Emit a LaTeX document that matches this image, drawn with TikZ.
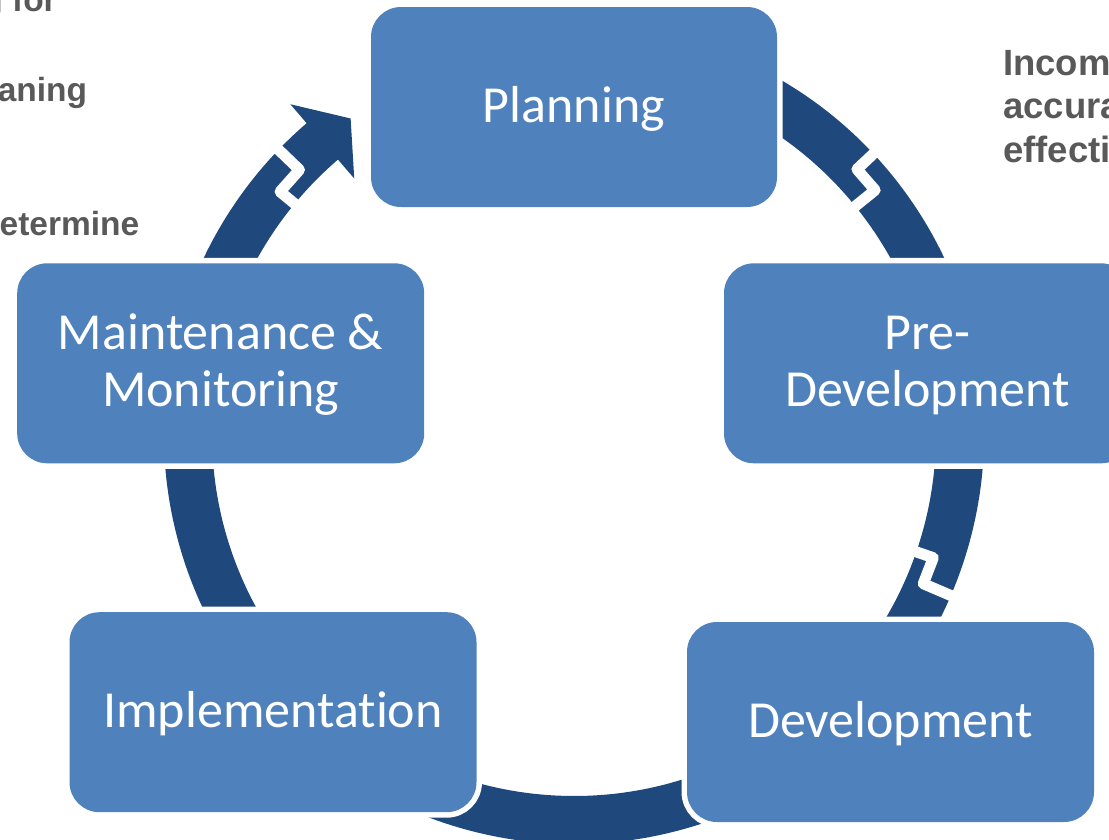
\documentclass[tikz,border=0pt]{standalone}
\usepackage{fontspec}
\setmainfont{Carlito}[Ligatures=NoCommon]
\newfontfamily\grayfont{Liberation Sans}
\definecolor{boxblue}{HTML}{4F81BD}
\definecolor{bandblue}{HTML}{1F497D}
\definecolor{graytext}{HTML}{595959}
\begin{document}
\begin{tikzpicture}[x=1pt,y=-1pt,
  box/.style={rectangle, rounded corners=30pt, fill=boxblue, minimum width=406pt, minimum height=200pt, inner sep=0pt, preaction={draw=white, line width=11pt}},
  lab/.style={text=white, font=\fontsize{52}{57.2}\selectfont, inner sep=0pt, anchor=base},
  side/.style={text=graytext, font=\grayfont\bfseries\fontsize{33.5}{44.4}\selectfont, inner sep=0pt},
  sider/.style={side, font=\grayfont\bfseries\fontsize{36.5}{44.4}\selectfont},
  cut/.style={draw=white, line width=11pt, line join=round},
]
\useasboundingbox (0,0) rectangle (1109,839);
\clip (0,0) rectangle (1109,839);

% partly hidden side texts
\node[side, anchor=base east] (l1) at (57,11.7) {g for};
\node[side, anchor=base east] (l2) at (87.3,101.7) {aning};
\node[side, anchor=base east] (l3) at (139.5,235) {etermine};
\node[sider, anchor=base west] (r1) at (1003,75) {Incom};
\node[sider, anchor=base west] (r2) at (1003,118.5) {accura};
\node[sider, anchor=base west] (r3) at (1003,162) {effecti};

% cycle band
\begin{scope}[shift={(574,434)}]
  \fill[bandblue] (290:410) arc[start angle=290, end angle=589.3, radius=410]
    -- (229.3:435) -- (234.7:386.6) -- (229.3:337) -- (229.3:362)
    arc[start angle=589.3, end angle=290, radius=362] -- cycle;
  \draw[cut] (223.9:418) -- (223.9:381) -- (219.5:381) -- (219.5:354);
  \draw[cut] (316.9:418) -- (316.9:387.5) -- (321:387.5) -- (321:354);
  \draw[cut] (19:354) -- (19:380) -- (23.2:380) -- (23.2:418);
\end{scope}

% boxes
\node[box] (plan) at (574,107) {};
\node[box, minimum width=407pt] (pre) at (927.5,363.3) {};
\node[box, minimum width=407pt] (maint) at (220.7,363.3) {};
\node[box, minimum width=407pt] (impl) at (273,712.2) {};
\node[box, minimum width=407pt] (dev) at (890.5,722) {};

% labels
\node[lab] (tplan) at (574,122.3) {Planning};
\node[lab] (tpre) at (927.5,349.5) {\begin{tabular}[t]{@{}c@{}}Pre-\\Development\end{tabular}};
\node[lab] (tmaint) at (220.7,349.5) {\begin{tabular}[t]{@{}c@{}}Maintenance \&\\Monitoring\end{tabular}};
\node[lab] (timpl) at (273,727.5) {Implementation};
\node[lab] (tdev) at (890.5,737.5) {Development};
\end{tikzpicture}
\end{document}
